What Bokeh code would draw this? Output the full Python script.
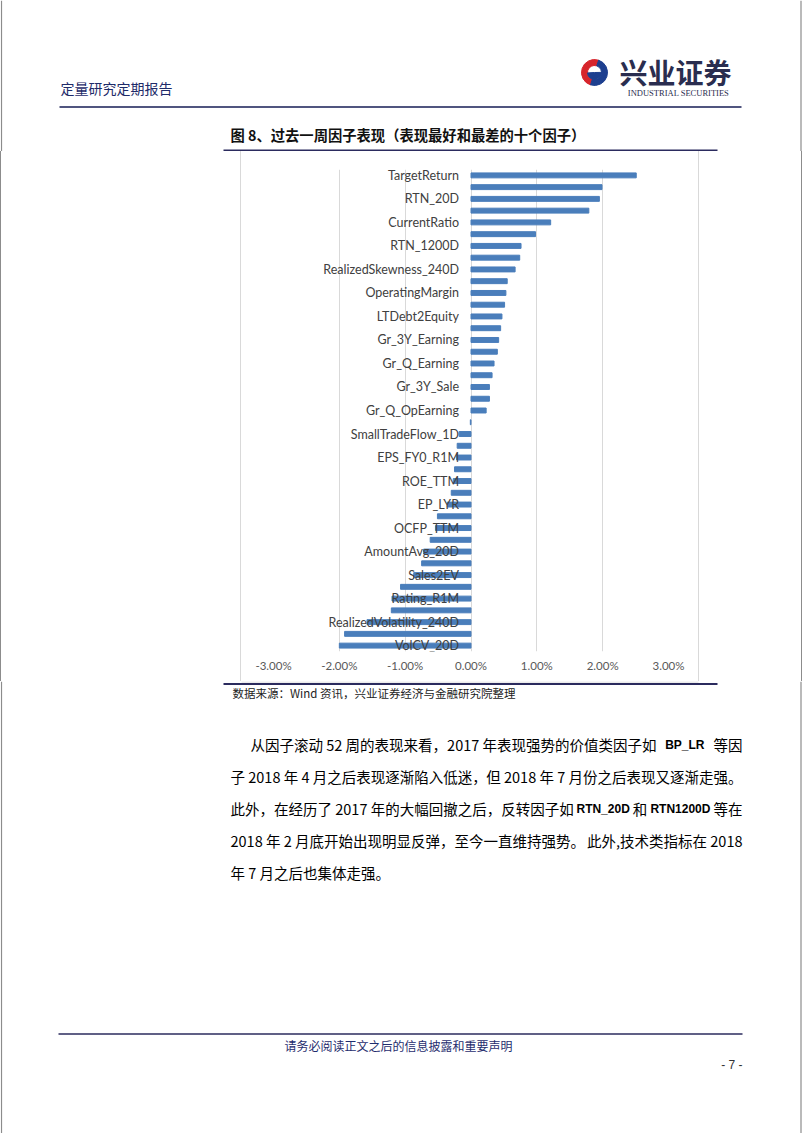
from bokeh.plotting import figure
from bokeh.models import Range1d, FixedTicker, NumeralTickFormatter, ColumnDataSource, Div
from bokeh.layouts import column, row
from bokeh.core.properties import value
from bokeh.embed import file_html
from bokeh.resources import INLINE

# ---------------- data ----------------
# 41 factors ranked by last-week return; only every other factor name is shown on the chart
factor_labels = [
    "TargetReturn", "", "RTN_20D", "", "CurrentRatio", "", "RTN_1200D", "",
    "RealizedSkewness_240D", "", "OperatingMargin", "", "LTDebt2Equity", "",
    "Gr_3Y_Earning", "", "Gr_Q_Earning", "", "Gr_3Y_Sale", "", "Gr_Q_OpEarning", "",
    "SmallTradeFlow_1D", "", "EPS_FY0_R1M", "", "ROE_TTM", "", "EP_LYR", "",
    "OCFP_TTM", "", "AmountAvg_20D", "", "Sales2EV", "", "Rating_R1M", "",
    "RealizedVolatility_240D", "", "VolCV_20D",
]
returns_pct = [
    2.51, 1.99, 1.95, 1.79, 1.21, 0.98, 0.76, 0.74, 0.67, 0.55,
    0.53, 0.51, 0.47, 0.45, 0.42, 0.40, 0.35, 0.32, 0.28, 0.28,
    0.23, -0.01, -0.18, -0.21, -0.22, -0.25, -0.27, -0.30, -0.36, -0.51,
    -0.54, -0.62, -0.72, -0.75, -0.87, -1.07, -1.20, -1.21, -1.58, -1.92,
    -2.00,
]
x_ticks = [-0.03, -0.02, -0.01, 0.0, 0.01, 0.02, 0.03]

# body paragraph: (line, [(text, bold), ...])
para_lines = [
    [("从因子滚动 52 周的表现来看，2017 年表现强势的价值类因子如", False), ("BP_LR", True), ("等因", False)],
    [("子 2018 年 4 月之后表现逐渐陷入低迷，", False), ("但 2018 年 7 月份之后表现又逐渐走强。", False)],
    [("此外，在经历了 2017 年的大幅回撤之后，反转因子如", False), ("RTN_20D", True), ("和", False),
     ("RTN1200D", True), ("等在", False)],
    [("2018 年 2 月底开始出现明显反弹，至今一直维持强势。", False), ("此外,技术类指标在 2018", False)],
    [("年 7 月之后也集体走强。", False)],
]

CJK = value("Noto Sans CJK SC")
NAVY = "#262c63"
BORDER = "#8c8c8c"


def deco(w, h):
    f = figure(width=w, height=h, x_range=Range1d(0, w), y_range=Range1d(h, 0),
               toolbar_location=None, output_backend="svg", min_border=0,
               x_axis_location=None, y_axis_location=None, outline_line_color=None)
    f.grid.visible = False
    f.background_fill_color = "white"
    f.border_fill_color = "white"
    return f


# ---------------- header ----------------
HH = 151
head = deco(802, HH)
head.segment(x0=[1, 800.5], y0=[0, 0], x1=[1, 800.5], y1=[HH, HH], line_color=BORDER, line_width=1.2)
head.text(x=[60], y=[87], text=["定量研究定期报告"], text_font=CJK, text_font_size="14px",
          text_color="#1e2b69", text_baseline="middle", text_align="left")
head.segment(x0=[59], y0=[106.5], x1=[741], y1=[106.5], line_color="#50557f", line_width=2)
# logo
head.annular_wedge(x=[594], y=[72], inner_radius=7, outer_radius=13,
                   start_angle=1.25, end_angle=4.4, color="#d7252c")
head.annular_wedge(x=[594], y=[72], inner_radius=7, outer_radius=13,
                   start_angle=4.4, end_angle=7.53, color="#1d3f8f")
head.wedge(x=[594], y=[72], radius=7, start_angle=3.2, end_angle=6.3, color="#1d3f8f")
head.text(x=[619], y=[71], text=["兴业证券"], text_font=CJK, text_font_size="28px",
          text_font_style="bold", text_color="#2a2d4f", text_baseline="middle", text_align="left")
head.text(x=[678], y=[92], text=["INDUSTRIAL SECURITIES"], text_font=value("Liberation Serif"),
          text_font_size="8.5px", text_color="#2a2d4f", text_baseline="middle", text_align="center")
head.text(x=[230], y=[134], text=["图 8、过去一周因子表现（表现最好和最差的十个因子）"], text_font=CJK,
          text_font_size="14.3px", text_font_style="bold", text_color="#111111",
          text_baseline="middle", text_align="left")
head.segment(x0=[223], y0=[150], x1=[717], y1=[150], line_color="#2b2b5e", line_width=2)

# ---------------- chart ----------------
CH = 530
n = len(returns_pct)
src = ColumnDataSource(dict(
    y=list(range(n)),
    val=[v / 100.0 for v in returns_pct],
    label=factor_labels,
))
chart = figure(width=457, height=CH, x_range=Range1d(x_ticks[0], x_ticks[-1]),
               y_range=Range1d(n - 0.5, -0.5), toolbar_location=None, output_backend="svg",
               min_border_left=32, min_border_right=30, min_border_top=18, min_border_bottom=30,
               y_axis_location=None, outline_line_color=None)
chart.background_fill_color = "white"
chart.border_fill_color = "white"
chart.xaxis.ticker = FixedTicker(ticks=x_ticks)
chart.xaxis.formatter = NumeralTickFormatter(format="0.00%")
chart.xaxis.axis_line_color = None
chart.xaxis.major_tick_line_color = None
chart.xaxis.minor_tick_line_color = None
chart.xaxis.major_tick_out = 0
chart.xaxis.major_tick_in = 0
chart.xaxis.minor_tick_out = 0
chart.xaxis.major_label_standoff = 7
chart.xaxis.major_label_text_font = "Lato"
chart.xaxis.major_label_text_font_size = "11.5px"
chart.xaxis.major_label_text_color = "#595959"
chart.xgrid.ticker = FixedTicker(ticks=x_ticks)
chart.xgrid.grid_line_color = "#d9d9d9"
chart.ygrid.visible = False
chart.hbar(y="y", left=0, right="val", height=0.42, source=src, color="#4a7ebb")
chart.text(x=0, y="y", text="label", source=src, x_offset=-12, text_align="right",
           text_baseline="middle", text_font=value("Lato"), text_font_size="12.5px",
           text_color="#404040")

left = Div(text="", width=241, height=CH, margin=0,
           styles={"border-left": "1px solid " + BORDER, "border-right": "1px solid #d9d9d9",
                   "box-sizing": "border-box", "background-color": "white"})
right = Div(text="", width=104, height=CH, margin=0,
            styles={"border-left": "1px solid #d9d9d9", "border-right": "1px solid " + BORDER,
                    "box-sizing": "border-box", "background-color": "white"})

# ---------------- footer ----------------
FH = 1133 - HH - CH
foot = deco(802, FH)
foot.segment(x0=[1, 800.5], y0=[0, 0], x1=[1, 800.5], y1=[FH, FH], line_color=BORDER, line_width=1.2)
foot.segment(x0=[241], y0=[0.5], x1=[698], y1=[0.5], line_color="#d9d9d9", line_width=1)
foot.segment(x0=[223], y0=[2.5], x1=[717], y1=[2.5], line_color="#2b2b5e", line_width=2)
foot.text(x=[232], y=[11], text=["数据来源：Wind 资讯，兴业证券经济与金融研究院整理"], text_font=CJK,
          text_font_size="11.5px", text_color="#222222", text_baseline="middle", text_align="left")

BODY_PX = 14.5
BOLD_PX = 12.0
ARIAL_BOLD = {"B": .722, "P": .667, "_": .556, "L": .611, "R": .722, "T": .611, "N": .722, "D": .722}


def text_w(s, bold):
    if bold:
        return sum(ARIAL_BOLD.get(c, .556) for c in s) * BOLD_PX
    w = 0.0
    for c in s:
        if ord(c) > 0x2E7F:
            w += 1.0
        elif c == " ":
            w += 0.224
        elif c == ",":
            w += 0.25
        else:
            w += 0.55
    return w * BODY_PX


line_y0, line_gap = 63, 32
for li, toks in enumerate(para_lines):
    x0 = 250 if li == 0 else 230
    y = line_y0 + li * line_gap
    widths = [text_w(t, b) for t, b in toks]
    last_line = li == len(para_lines) - 1
    gap = 0.0 if (last_line or len(toks) == 1) else max(1.0, (742 - x0 - sum(widths)) / (len(toks) - 1))
    x = x0
    for k, ((t, b), w) in enumerate(zip(toks, widths)):
        is_last_tok = (k == len(toks) - 1) and not last_line and len(toks) > 1
        kw = dict(text_baseline="middle", text_color="#000000")
        if b:
            kw.update(text_font=value("Liberation Sans"), text_font_size="%.1fpx" % BOLD_PX,
                      text_font_style="bold")
        else:
            kw.update(text_font=CJK, text_font_size="%.1fpx" % BODY_PX)
        if is_last_tok:
            foot.text(x=[742], y=[y], text=[t], text_align="right", **kw)
        else:
            foot.text(x=[x], y=[y], text=[t], text_align="left", **kw)
        x += w + gap

foot.segment(x0=[58], y0=[352.5], x1=[742], y1=[352.5], line_color="#2b2b5e", line_width=1.5)
foot.text(x=[284], y=[364], text=["请务必阅读正文之后的信息披露和重要声明"], text_font=CJK,
          text_font_size="12px", text_color="#1f2d6e", text_baseline="middle", text_align="left")
foot.text(x=[742], y=[383], text=["- 7 -"], text_font=value("Liberation Sans"),
          text_font_size="12px", text_color="#333333", text_baseline="middle", text_align="right")

page = column(head, row(left, chart, right, spacing=0), foot, spacing=0)
open("out.html", "w").write(file_html(page, INLINE))
